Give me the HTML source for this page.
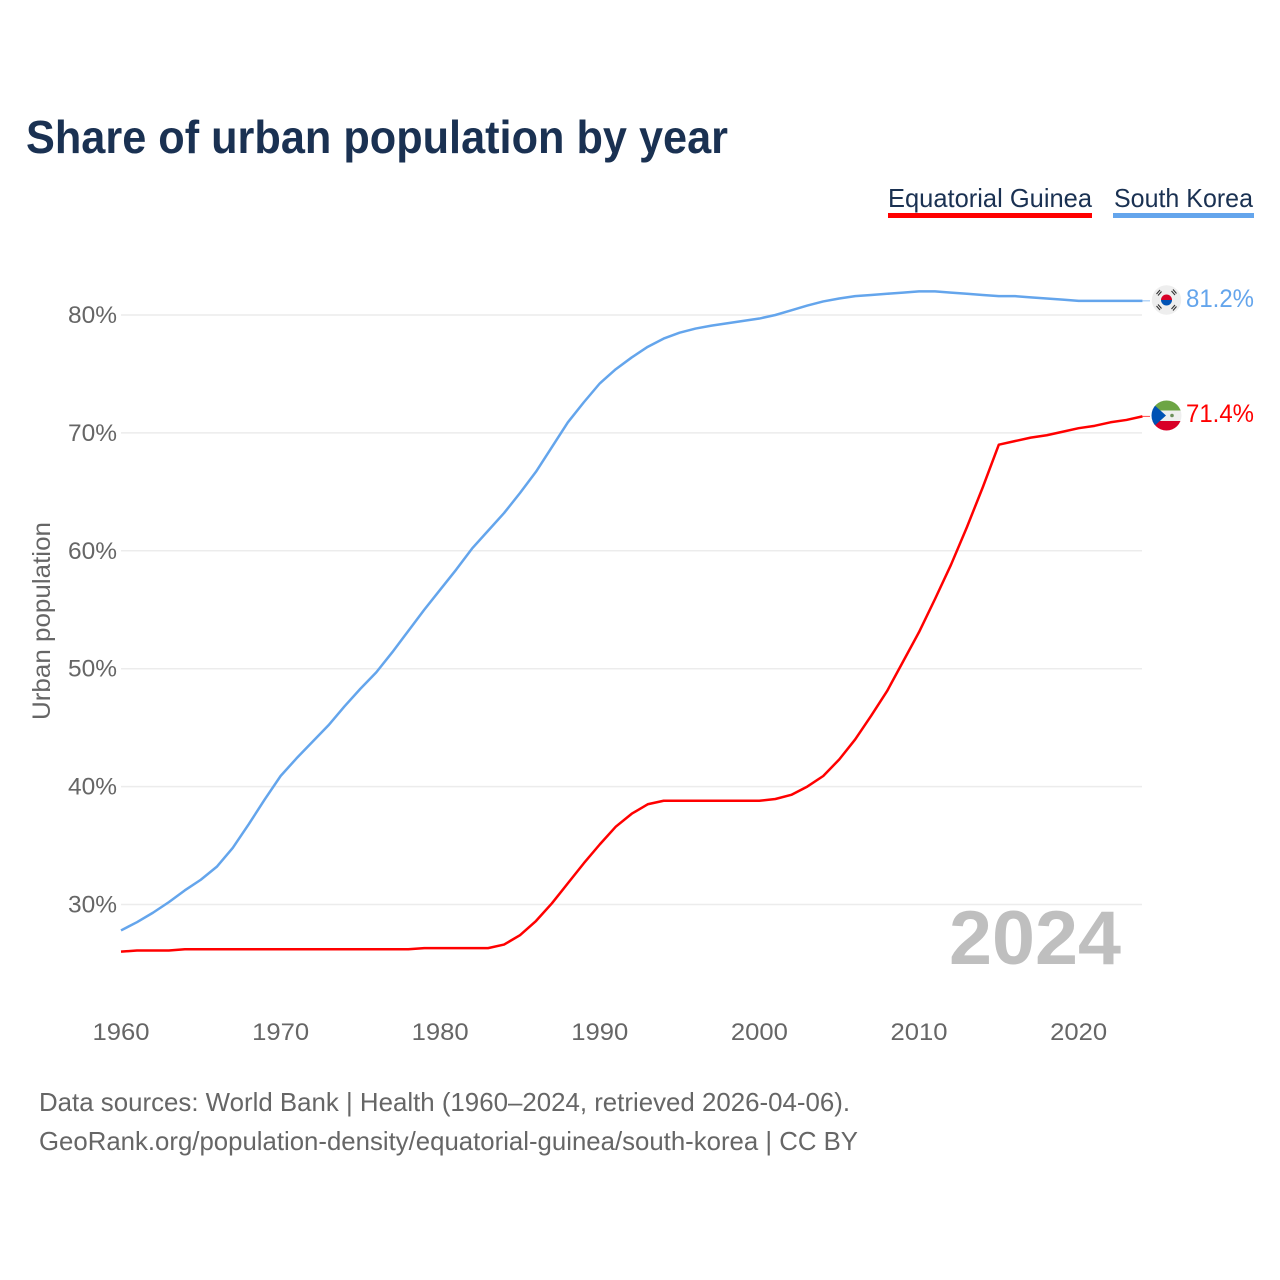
<!DOCTYPE html>
<html lang="en">
<head>
<meta charset="utf-8">
<title>Share of urban population by year</title>
<style>
html,body{margin:0;padding:0;background:#fff;}
svg{display:block;font-family:"Liberation Sans",sans-serif;}
</style>
</head>
<body>
<svg id="chart" width="1280" height="1280" viewBox="0 0 1280 1280" xmlns="http://www.w3.org/2000/svg">
  <defs>
    <clipPath id="flag-clip-kr"><circle cx="1166.5" cy="300" r="14.7"/></clipPath>
    <clipPath id="flag-clip-gq"><circle cx="1166.5" cy="415.5" r="15"/></clipPath>
  </defs>
  <rect width="1280" height="1280" fill="#fff"/>
  <text x="26" y="153" font-size="46" font-weight="700" fill="#1a3152" textLength="702" lengthAdjust="spacingAndGlyphs">Share of urban population by year</text>

  <g>
    <g>
      <text x="888" y="207" font-size="26" fill="#1a3152" textLength="204" lengthAdjust="spacingAndGlyphs">Equatorial Guinea</text>
      <rect x="888" y="213" width="204" height="5" fill="#ff0000"/>
    </g>
    <g>
      <text x="1114" y="207" font-size="26" fill="#1a3152" textLength="139" lengthAdjust="spacingAndGlyphs">South Korea</text>
      <rect x="1113" y="213" width="141" height="5" fill="#64a5ec"/>
    </g>
  </g>

  <g id="grid"></g>
  <g id="y-axis"></g>
  <g id="x-axis"></g>

  <text transform="translate(50,621) rotate(-90)" text-anchor="middle" font-size="25" fill="#666" textLength="198" lengthAdjust="spacingAndGlyphs">Urban population</text>
  <text x="949" y="964" font-size="76" font-weight="700" fill="#bfbfbf" textLength="172" lengthAdjust="spacingAndGlyphs">2024</text>

  <g id="series"></g>

  <g clip-path="url(#flag-clip-kr)">
    <circle cx="1166.5" cy="300" r="15" fill="#eeeeee"/>
    <path d="M1161 300 a5.5 5.5 0 0 1 11 0 z" fill="#d80027"/>
    <path d="M1161 300 a5.5 5.5 0 0 0 11 0 z" fill="#0052b4"/>
    <g stroke="#333" stroke-width="1.1" fill="none">
      <path d="M1156.5 294 l3.5 -4 M1158 295.5 l3.5 -4"/>
      <path d="M1171.5 291 l3.5 4 M1173 289.5 l3.5 4"/>
      <path d="M1156.5 306 l3.5 4 M1158 304.5 l3.5 4"/>
      <path d="M1171.5 309 l3.5 -4 M1173 310.5 l3.5 -4"/>
    </g>
  </g>
  <g clip-path="url(#flag-clip-gq)">
    <rect x="1151" y="400" width="31" height="10.5" fill="#6da544"/>
    <rect x="1151" y="410.5" width="31" height="10.5" fill="#eeeeee"/>
    <rect x="1151" y="421" width="31" height="10.5" fill="#d80027"/>
    <path d="M1151 402 L1166 415.5 L1151 429 Z" fill="#0052b4"/>
    <circle cx="1172" cy="415.5" r="1.8" fill="#6b8f5a"/>
  </g>

  <text x="1186" y="307" font-size="25" fill="#64a5ec" textLength="68" lengthAdjust="spacingAndGlyphs">81.2%</text>
  <text x="1186" y="422" font-size="25" fill="#ff0000" textLength="68" lengthAdjust="spacingAndGlyphs">71.4%</text>

  <text x="39" y="1111" font-size="26" fill="#666" textLength="811" lengthAdjust="spacingAndGlyphs">Data sources: World Bank | Health (1960–2024, retrieved 2026-04-06).</text>
  <a><text x="39" y="1150" font-size="26" fill="#666" textLength="819" lengthAdjust="spacingAndGlyphs">GeoRank.org/population-density/equatorial-guinea/south-korea | CC BY</text></a>
</svg>
<script>
const years = [1960,1961,1962,1963,1964,1965,1966,1967,1968,1969,1970,1971,1972,1973,1974,1975,1976,1977,1978,1979,1980,1981,1982,1983,1984,1985,1986,1987,1988,1989,1990,1991,1992,1993,1994,1995,1996,1997,1998,1999,2000,2001,2002,2003,2004,2005,2006,2007,2008,2009,2010,2011,2012,2013,2014,2015,2016,2017,2018,2019,2020,2021,2022,2023,2024];
const southKorea = [27.8,28.5,29.3,30.2,31.2,32.1,33.2,34.8,36.8,38.9,40.9,42.4,43.8,45.2,46.8,48.3,49.7,51.4,53.2,55.0,56.7,58.4,60.2,61.7,63.2,64.9,66.7,68.8,70.9,72.6,74.2,75.4,76.4,77.3,78.0,78.5,78.85,79.1,79.3,79.5,79.7,80.0,80.4,80.8,81.15,81.4,81.6,81.7,81.8,81.9,82.0,82.0,81.9,81.8,81.7,81.6,81.6,81.5,81.4,81.3,81.2,81.2,81.2,81.2,81.2];
const equatorialGuinea = [26.0,26.1,26.1,26.1,26.2,26.2,26.2,26.2,26.2,26.2,26.2,26.2,26.2,26.2,26.2,26.2,26.2,26.2,26.2,26.3,26.3,26.3,26.3,26.3,26.6,27.4,28.6,30.1,31.8,33.5,35.1,36.6,37.7,38.5,38.8,38.8,38.8,38.8,38.8,38.8,38.8,38.95,39.3,40.0,40.9,42.3,44.0,46.0,48.1,50.6,53.1,55.9,58.8,62.0,65.4,69.0,69.3,69.6,69.8,70.1,70.4,70.6,70.9,71.1,71.4];
const yTicks = [30,40,50,60,70,80];
const xTicks = [1960,1970,1980,1990,2000,2010,2020];

const SVG_NS = 'http://www.w3.org/2000/svg';
function xScale(year){ return 121 + (year - 1960) * 15.96; }
function yScale(pct){ return 904.5 - (pct - 30) * 11.79; }
function make(tag, attrs, parent){
  const el = document.createElementNS(SVG_NS, tag);
  for (const k in attrs) el.setAttribute(k, attrs[k]);
  parent.appendChild(el);
  return el;
}

const grid = document.getElementById('grid');
const yAxis = document.getElementById('y-axis');
yTicks.forEach(function(t){
  const line = make('line', {x1:121, x2:1142, y1:yScale(t), y2:yScale(t), stroke:'#ececec', 'stroke-width':1.5}, grid);
  
  
  const label = make('text', {x:117, y:yScale(t) + 8, 'text-anchor':'end', 'font-size':24, fill:'#666', textLength:49, lengthAdjust:'spacingAndGlyphs'}, yAxis);
  label.textContent = t + '%';
  
  
});

const xAxis = document.getElementById('x-axis');
xTicks.forEach(function(t){
  const label = make('text', {x:xScale(t), y:1040, 'text-anchor':'middle', 'font-size':24, fill:'#666', textLength:57, lengthAdjust:'spacingAndGlyphs'}, xAxis);
  label.textContent = String(t);
  
  
});

function pathFor(values){
  return values.map(function(v, i){
    return (i ? 'L' : 'M') + xScale(years[i]).toFixed(2) + ' ' + yScale(v).toFixed(2);
  }).join(' ');
}
const seriesGroup = document.getElementById('series');

const krLine = make('path', {d:pathFor(southKorea), fill:'none', stroke:'#64a5ec', 'stroke-width':2.5, 'stroke-linejoin':'round'}, seriesGroup);


const krLast = southKorea[southKorea.length - 1];
const krLeader = make('line', {x1:xScale(2024), x2:1150, y1:yScale(krLast), y2:yScale(krLast), stroke:'#64a5ec', 'stroke-width':1, opacity:0.7}, seriesGroup);



const gqLine = make('path', {d:pathFor(equatorialGuinea), fill:'none', stroke:'#ff0000', 'stroke-width':2.5, 'stroke-linejoin':'round'}, seriesGroup);


const gqLast = equatorialGuinea[equatorialGuinea.length - 1];
const gqLeader = make('line', {x1:xScale(2024), x2:1150, y1:yScale(gqLast), y2:yScale(gqLast), stroke:'#ff0000', 'stroke-width':1, opacity:0.7}, seriesGroup);


</script>
</body>
</html>
